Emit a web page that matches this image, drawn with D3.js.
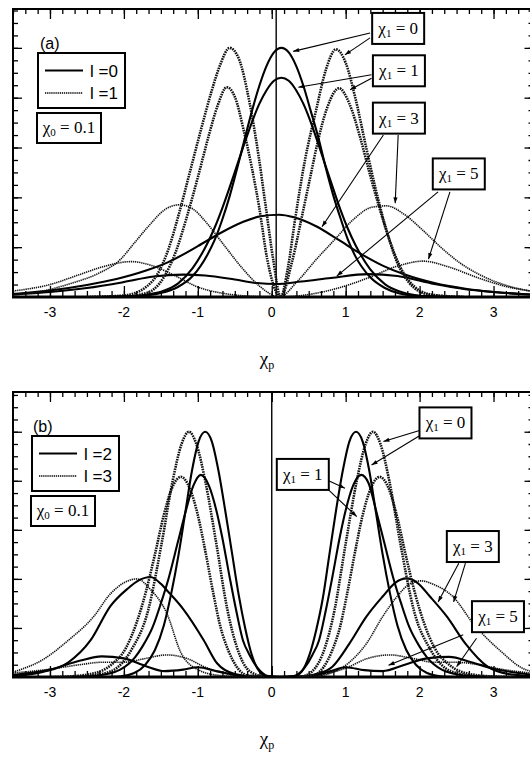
<!DOCTYPE html>
<html lang="en">
<head>
<meta charset="UTF-8">
<title>Density profiles vs chi_p</title>
<script src="https://d3js.org/d3.v7.min.js"></script>
<style>
  body { margin: 0; background: #fff; }
  svg { display: block; }
  .tick line { stroke: #000; stroke-width: 1.3px; }
</style>
</head>
<body>
<div id="chart"></div>
<script>
// shared x axis
const xLabels = [-3, -2, -1, 0, 1, 2, 3];
const xDomain = [-3.5, 3.5];

// ---- panel (a): l = 0 (solid) and l = 1 (dotted), chi0 = 0.1 ----
const a_l0_c0 = [[-2.2,0],[-1.8,0.02],[-1.5,0.08],[-1.27,0.2],[-1.07,0.42],[-0.87,0.85],[-0.77,1.15],[-0.67,1.55],[-0.57,2.02],[-0.47,2.57],[-0.37,3.15],[-0.27,3.72],[-0.17,4.23],[-0.07,4.64],[0.03,4.91],[0.13,5.0],[0.23,4.91],[0.33,4.64],[0.43,4.23],[0.53,3.72],[0.63,3.2],[0.73,2.6],[0.83,2.05],[0.93,1.58],[1.03,1.15],[1.13,0.82],[1.33,0.4],[1.53,0.18],[1.73,0.07],[2.0,0.02],[2.4,0]];
const a_l0_c1 = [[-2.3,0],[-1.9,0.02],[-1.67,0.05],[-1.47,0.12],[-1.27,0.27],[-1.07,0.58],[-0.87,1.08],[-0.77,1.4],[-0.67,1.78],[-0.57,2.2],[-0.47,2.64],[-0.37,3.08],[-0.27,3.5],[-0.17,3.87],[-0.07,4.15],[0.03,4.34],[0.13,4.4],[0.23,4.34],[0.33,4.15],[0.43,3.87],[0.53,3.5],[0.63,3.07],[0.73,2.62],[0.83,2.18],[0.93,1.75],[1.03,1.37],[1.13,1.05],[1.33,0.56],[1.53,0.26],[1.73,0.11],[1.93,0.04],[2.2,0.01],[2.6,0]];
const a_l0_c3 = [[-3.5,0.06],[-3.0,0.13],[-2.5,0.24],[-2.1,0.36],[-1.7,0.53],[-1.4,0.7],[-1.0,1.02],[-0.7,1.28],[-0.4,1.5],[-0.15,1.62],[0.1,1.65],[0.3,1.6],[0.6,1.42],[0.9,1.15],[1.2,0.87],[1.5,0.63],[1.8,0.45],[2.2,0.28],[2.6,0.17],[3.0,0.1],[3.5,0.05]];
const a_l0_c5 = [[-3.5,0.05],[-3.0,0.1],[-2.5,0.18],[-2.0,0.3],[-1.6,0.41],[-1.2,0.45],[-0.9,0.43],[-0.5,0.35],[-0.2,0.28],[0.05,0.26],[0.4,0.31],[0.8,0.38],[1.3,0.46],[1.7,0.42],[2.2,0.26],[2.6,0.16],[3.0,0.1],[3.5,0.05]];
const a_l1_c0 = [[-2.5,0],[-2.0,0.03],[-1.85,0.08],[-1.7,0.2],[-1.55,0.45],[-1.4,0.95],[-1.25,1.7],[-1.1,2.55],[-0.95,3.4],[-0.82,4.1],[-0.7,4.65],[-0.57,5.0],[-0.45,4.8],[-0.3,3.9],[-0.18,2.85],[-0.08,1.8],[0.02,0.75],[0.12,0],[0.22,0.6],[0.32,1.6],[0.45,2.75],[0.6,3.75],[0.73,4.55],[0.87,4.97],[1.0,4.7],[1.13,4.0],[1.27,3.05],[1.4,2.2],[1.55,1.35],[1.7,0.68],[1.85,0.3],[2.0,0.11],[2.2,0.03],[2.6,0]];
const a_l1_c1 = [[-2.4,0],[-1.9,0.02],[-1.75,0.06],[-1.6,0.15],[-1.45,0.42],[-1.3,0.9],[-1.15,1.6],[-1.0,2.4],[-0.85,3.25],[-0.73,3.85],[-0.61,4.21],[-0.5,4.02],[-0.38,3.35],[-0.27,2.6],[-0.17,1.8],[-0.06,0.75],[0.12,0],[0.27,0.68],[0.42,1.7],[0.52,2.4],[0.62,3.1],[0.75,3.8],[0.91,4.19],[1.05,3.88],[1.2,3.18],[1.33,2.45],[1.45,1.82],[1.58,1.2],[1.72,0.66],[1.86,0.32],[2.0,0.13],[2.2,0.04],[2.6,0]];
const a_l1_c3 = [[-3.5,0.04],[-3.1,0.12],[-2.7,0.28],[-2.35,0.47],[-2.05,0.75],[-1.85,1.1],[-1.65,1.45],[-1.45,1.75],[-1.25,1.85],[-1.05,1.75],[-0.9,1.52],[-0.65,1.05],[-0.4,0.58],[-0.15,0.2],[0.1,0],[0.35,0.32],[0.6,0.75],[0.85,1.15],[1.1,1.55],[1.35,1.8],[1.55,1.83],[1.8,1.65],[2.05,1.33],[2.3,0.98],[2.55,0.68],[2.85,0.42],[3.2,0.22],[3.5,0.12]];
const a_l1_c5 = [[-3.5,0.12],[-3.0,0.25],[-2.6,0.45],[-2.3,0.6],[-1.9,0.71],[-1.6,0.62],[-1.3,0.42],[-1.0,0.2],[-0.6,0.06],[-0.2,0.01],[0.1,0],[0.5,0.05],[0.9,0.18],[1.3,0.38],[1.7,0.62],[2.05,0.72],[2.4,0.6],[2.8,0.38],[3.2,0.2],[3.5,0.12]];

// ---- panel (b): l = 2 (solid) and l = 3 (dotted), chi0 = 0.1 ----
const b_l2_c0 = [[-2.4,0],[-2.06,0.01],[-1.86,0.08],[-1.71,0.25],[-1.58,0.55],[-1.46,1.05],[-1.36,1.7],[-1.26,2.5],[-1.17,3.35],[-1.08,4.2],[-0.99,4.8],[-0.9,5.0],[-0.81,4.8],[-0.72,4.2],[-0.63,3.4],[-0.54,2.55],[-0.45,1.7],[-0.36,1.0],[-0.27,0.45],[-0.16,0.1],[-0.06,0.01],[0.12,0],[0.3,0.01],[0.4,0.1],[0.51,0.45],[0.6,0.95],[0.69,1.6],[0.78,2.5],[0.87,3.4],[0.96,4.2],[1.05,4.8],[1.14,5.0],[1.23,4.8],[1.32,4.2],[1.41,3.35],[1.5,2.5],[1.6,1.7],[1.7,1.05],[1.82,0.55],[1.95,0.25],[2.1,0.08],[2.3,0.01],[2.6,0]];
const b_l2_c1 = [[-2.7,0],[-2.35,0.03],[-2.05,0.15],[-1.85,0.4],[-1.75,0.62],[-1.61,1.02],[-1.5,1.5],[-1.39,2.04],[-1.27,2.75],[-1.16,3.4],[-1.06,3.9],[-0.96,4.12],[-0.85,3.9],[-0.75,3.4],[-0.67,2.85],[-0.57,2.04],[-0.48,1.35],[-0.39,0.75],[-0.3,0.45],[-0.2,0.2],[-0.05,0.02],[0.12,0],[0.3,0.02],[0.45,0.2],[0.55,0.45],[0.64,0.75],[0.73,1.35],[0.82,2.04],[0.92,2.85],[1.0,3.4],[1.1,3.9],[1.21,4.12],[1.31,3.95],[1.41,3.4],[1.52,2.75],[1.64,2.04],[1.75,1.5],[1.86,1.02],[2.0,0.62],[2.1,0.4],[2.3,0.15],[2.6,0.03],[2.9,0]];
const b_l2_c3 = [[-3.5,0.02],[-3.1,0.1],[-2.75,0.3],[-2.45,0.75],[-2.18,1.45],[-1.95,1.8],[-1.8,1.97],[-1.64,2.04],[-1.5,1.9],[-1.42,1.77],[-1.19,1.37],[-0.92,0.75],[-0.74,0.28],[-0.5,0.06],[-0.2,0],[0.4,0],[0.6,0.06],[0.82,0.21],[1.05,0.68],[1.28,1.23],[1.5,1.64],[1.67,1.92],[1.82,2.01],[1.97,1.92],[2.14,1.64],[2.37,1.23],[2.62,0.68],[2.92,0.21],[3.2,0.06],[3.5,0.02]];
const b_l2_c5 = [[-3.5,0.04],[-3.0,0.15],[-2.6,0.33],[-2.3,0.42],[-2.0,0.38],[-1.7,0.22],[-1.45,0.12],[-1.2,0.15],[-1.0,0.2],[-0.75,0.12],[-0.45,0.03],[-0.1,0],[0.3,0],[0.6,0.04],[0.8,0.12],[1.0,0.2],[1.25,0.14],[1.5,0.12],[1.8,0.25],[2.1,0.38],[2.4,0.41],[2.7,0.3],[3.0,0.17],[3.5,0.05]];
const b_l3_c0 = [[-2.8,0],[-2.5,0.02],[-2.17,0.12],[-1.9,0.55],[-1.67,1.37],[-1.49,2.72],[-1.34,4.0],[-1.22,4.75],[-1.12,5.0],[-1.02,4.75],[-0.9,4.0],[-0.75,2.72],[-0.6,1.37],[-0.47,0.6],[-0.3,0.12],[-0.1,0.01],[0.12,0],[0.4,0.01],[0.55,0.12],[0.72,0.6],[0.85,1.37],[1.0,2.72],[1.15,4.0],[1.27,4.75],[1.37,5.0],[1.47,4.75],[1.59,4.0],[1.74,2.72],[1.92,1.37],[2.15,0.55],[2.42,0.12],[2.8,0.01],[3.1,0]];
const b_l3_c1 = [[-3.0,0],[-2.77,0.01],[-2.42,0.07],[-2.17,0.25],[-1.97,0.6],[-1.83,1.1],[-1.7,1.75],[-1.58,2.5],[-1.46,3.3],[-1.35,3.85],[-1.23,4.08],[-1.11,3.85],[-1.0,3.3],[-0.89,2.5],[-0.79,1.7],[-0.69,1.0],[-0.59,0.55],[-0.47,0.2],[-0.32,0.03],[0.12,0],[0.55,0.03],[0.7,0.2],[0.82,0.55],[0.92,1.0],[1.02,1.7],[1.12,2.5],[1.23,3.3],[1.34,3.85],[1.46,4.08],[1.58,3.85],[1.69,3.3],[1.81,2.5],[1.93,1.75],[2.06,1.1],[2.2,0.6],[2.4,0.25],[2.65,0.07],[3.0,0.01],[3.3,0]];
const b_l3_c3 = [[-3.5,0.1],[-3.1,0.35],[-2.75,0.75],[-2.41,1.23],[-2.18,1.7],[-2.0,1.92],[-1.82,2.0],[-1.65,1.8],[-1.42,1.3],[-1.23,0.5],[-1.0,0.15],[-0.7,0.03],[-0.3,0],[0.5,0],[0.8,0.08],[1.05,0.3],[1.28,0.68],[1.5,1.23],[1.7,1.65],[1.85,1.88],[2.02,1.96],[2.2,1.88],[2.45,1.64],[2.72,1.1],[3.08,0.55],[3.45,0.14],[3.5,0.12]];
const b_l3_c5 = [[-3.5,0.08],[-3.0,0.16],[-2.6,0.25],[-2.3,0.3],[-2.0,0.3],[-1.7,0.38],[-1.42,0.45],[-1.15,0.38],[-0.9,0.2],[-0.6,0.06],[-0.2,0],[0.3,0],[0.7,0.06],[1.0,0.18],[1.3,0.38],[1.6,0.45],[1.9,0.38],[2.2,0.3],[2.5,0.3],[2.8,0.25],[3.1,0.16],[3.5,0.08]];

// chi1 annotation boxes: box centre and arrow (from -> to) in data units
const notesA = [
  {chi1: 0, at: [1.71, 5.40], arrows: [[1.33, 5.30, 0.29, 4.93], [1.33, 5.20, 0.99, 4.86]]},
  {chi1: 1, at: [1.72, 4.55], arrows: [[1.35, 4.46, 0.36, 4.21], [1.35, 4.39, 1.06, 4.16]]},
  {chi1: 3, at: [1.72, 3.60], arrows: [[1.51, 3.25, 0.68, 1.41], [1.71, 3.25, 1.67, 1.88]]},
  {chi1: 5, at: [2.53, 2.48], arrows: [[2.25, 2.11, 0.88, 0.42], [2.41, 2.11, 2.12, 0.76]]}
];
const notesB = [
  {chi1: 0, at: [2.35, 5.19], arrows: [[2.01, 5.03, 1.51, 4.80], [2.01, 4.93, 1.35, 4.32]]},
  {chi1: 1, at: [0.42, 4.14], arrows: [[0.74, 4.02, 0.99, 3.85], [0.70, 3.91, 1.15, 3.27]]},
  {chi1: 3, at: [2.72, 2.67], arrows: [[2.53, 2.32, 2.25, 1.53], [2.62, 2.32, 2.46, 1.53]]},
  {chi1: 5, at: [3.06, 1.24], arrows: [[2.59, 0.86, 1.58, 0.24], [2.77, 0.79, 2.50, 0.21]]}
];

const panels = [
  {tag: "(a)", top: 9, bottom: 297, yMax: 5.78, vline: 0.06, legendX: 38, tagX: 40,
   labels: ["l =0", "l =1"], notes: notesA,
   curves: [
     {d: a_l0_c5, dotted: false}, {d: a_l0_c3, dotted: false},
     {d: a_l1_c5, dotted: true, thin: true}, {d: a_l1_c3, dotted: true, thin: true},
     {d: a_l1_c1, dotted: true}, {d: a_l1_c0, dotted: true},
     {d: a_l0_c1, dotted: false}, {d: a_l0_c0, dotted: false}]},
  {tag: "(b)", top: 392, bottom: 677, yMax: 5.81, vline: 0, legendX: 32, tagX: 33,
   labels: ["l =2", "l =3"], notes: notesB,
   curves: [
     {d: b_l3_c5, dotted: true, thin: true}, {d: b_l3_c3, dotted: true, thin: true},
     {d: b_l2_c5, dotted: false}, {d: b_l2_c3, dotted: false},
     {d: b_l3_c1, dotted: true}, {d: b_l3_c0, dotted: true},
     {d: b_l2_c1, dotted: false}, {d: b_l2_c0, dotted: false}]}
];

const W = 530, H = 757;
const left = 13, right = 530.5;
const svg = d3.select("#chart").append("svg").attr("width", W).attr("height", H);

svg.append("defs").append("marker")
  .attr("id", "arrow").attr("viewBox", "0 0 10 10")
  .attr("refX", 10).attr("refY", 5)
  .attr("markerUnits", "userSpaceOnUse")
  .attr("markerWidth", 8).attr("markerHeight", 6)
  .attr("orient", "auto")
  .append("path").attr("d", "M0,1.5L10,5L0,8.5Z").attr("fill", "#000");

const x = d3.scaleLinear().domain(xDomain).range([left, right]);
const xMinor = d3.range(-21, 22).map(i => i / 6);
const serif = "'Liberation Serif', 'Times New Roman', serif";
const sans = "'Liberation Sans', Arial, sans-serif";

panels.forEach((p, pi) => {
  const y = d3.scaleLinear().domain([0, p.yMax]).range([p.bottom, p.top]);
  const g = svg.append("g");
  const yMinor = d3.range(1, Math.floor(p.yMax * 4) + 1).map(i => i / 4);

  // clip
  const clipId = "clip" + pi;
  svg.select("defs").append("clipPath").attr("id", clipId)
    .append("rect").attr("x", left).attr("y", p.top)
    .attr("width", right - left).attr("height", p.bottom - p.top);

  // ticks (inward)
  const addAxis = (axis, tx, ty) => {
    const a = g.append("g").attr("transform", `translate(${tx},${ty})`).call(axis);
    a.select(".domain").remove();
    a.selectAll("text").remove();
  };
  addAxis(d3.axisRight(y).tickValues(yMinor).tickSize(5), left, 0);
  addAxis(d3.axisRight(y).tickValues([1, 2, 3, 4, 5]).tickSize(9), left, 0);
  addAxis(d3.axisLeft(y).tickValues(yMinor).tickSize(2), right, 0);
  addAxis(d3.axisLeft(y).tickValues([1, 2, 3, 4, 5]).tickSize(6), right, 0);
  addAxis(d3.axisBottom(x).tickValues(xMinor).tickSize(5), 0, p.top);
  addAxis(d3.axisBottom(x).tickValues(xLabels).tickSize(10), 0, p.top);
  addAxis(d3.axisTop(x).tickValues(xMinor).tickSize(6), 0, p.bottom);
  addAxis(d3.axisTop(x).tickValues(xLabels).tickSize(11), 0, p.bottom);

  // frame
  g.append("path")
    .attr("d", `M${right},${p.top}H${left}V${p.bottom}`)
    .attr("fill", "none").attr("stroke", "#000").attr("stroke-width", 2);
  g.append("line")
    .attr("x1", left - 1).attr("x2", right).attr("y1", p.bottom).attr("y2", p.bottom)
    .attr("stroke", "#000").attr("stroke-width", 3);

  // tick labels
  g.selectAll("text.xl").data(xLabels).join("text")
    .attr("class", "xl")
    .attr("x", d => x(d)).attr("y", p.bottom + 20)
    .attr("text-anchor", "middle")
    .style("font-family", sans).style("font-size", "14px")
    .text(d => d);

  // axis title chi_p
  const t = g.append("text").attr("x", 267).attr("y", p.bottom + 68)
    .attr("text-anchor", "middle")
    .style("font-family", serif).style("font-size", "19px");
  t.append("tspan").text("χ");
  t.append("tspan").attr("dy", 4).style("font-size", "12px").text("p");

  // vertical line at origin
  g.append("line")
    .attr("x1", x(p.vline)).attr("x2", x(p.vline))
    .attr("y1", p.top).attr("y2", p.bottom)
    .attr("stroke", "#000").attr("stroke-width", 1.4);

  // curves
  const line = d3.line().x(d => x(d[0])).y(d => y(d[1])).curve(d3.curveMonotoneX);
  const cg = g.append("g").attr("clip-path", `url(#${clipId})`);
  p.curves.forEach(c => {
    cg.append("path").datum(c.d)
      .attr("d", line)
      .attr("fill", "none")
      .attr("stroke", c.dotted ? "#111" : "#000")
      .attr("stroke-width", c.dotted ? (c.thin ? 1.6 : 2.6) : 2.1)
      .attr("stroke-dasharray", c.dotted ? (c.thin ? "1.3 0.8" : "1.6 0.9") : null)
      .attr("stroke-linejoin", "round");
  });

  // panel tag
  g.append("text").attr("x", p.tagX).attr("y", p.top + 40)
    .style("font-family", sans).style("font-size", "16px")
    .text(p.tag);

  // legend box
  const lx = p.legendX, ly = p.top + 44;
  g.append("rect").attr("x", lx).attr("y", ly).attr("width", 87).attr("height", 55)
    .attr("fill", "#fff").attr("stroke", "#000").attr("stroke-width", 2);
  p.labels.forEach((lab, i) => {
    const yy = ly + 17.5 + i * 22.5;
    g.append("line").attr("x1", lx + 7).attr("x2", lx + 45).attr("y1", yy).attr("y2", yy)
      .attr("stroke", "#000")
      .attr("stroke-width", i ? 1.6 : 2.1)
      .attr("stroke-dasharray", i ? "1.3 0.8" : null);
    g.append("text").attr("x", lx + 52).attr("y", yy + 6)
      .style("font-family", sans).style("font-size", "17px")
      .text(lab);
  });

  // chi0 box
  const cy0 = p.top + 104;
  g.append("rect").attr("x", lx - 1).attr("y", cy0).attr("width", 64).attr("height", 30)
    .attr("fill", "#fff").attr("stroke", "#000").attr("stroke-width", 2);
  const c0 = g.append("text").attr("x", lx + 31).attr("y", cy0 + 20)
    .attr("text-anchor", "middle")
    .style("font-family", serif).style("font-size", "17px");
  c0.append("tspan").text("χ");
  c0.append("tspan").attr("dy", 3).style("font-size", "11px").text("0");
  c0.append("tspan").attr("dy", -3).text(" = 0.1");

  // chi1 annotations
  p.notes.forEach(n => {
    n.arrows.forEach(a => {
      g.append("line")
        .attr("x1", x(a[0])).attr("y1", y(a[1]))
        .attr("x2", x(a[2])).attr("y2", y(a[3]))
        .attr("stroke", "#000").attr("stroke-width", 1.1)
        .attr("marker-end", "url(#arrow)");
    });
    const cx = x(n.at[0]), cy = y(n.at[1]);
    g.append("rect").attr("x", cx - 26).attr("y", cy - 15).attr("width", 52).attr("height", 31)
      .attr("fill", "#fff").attr("stroke", "#000").attr("stroke-width", 2);
    const tt = g.append("text").attr("x", cx).attr("y", cy + 6)
      .attr("text-anchor", "middle")
      .style("font-family", serif).style("font-size", "17px");
    tt.append("tspan").text("χ");
    tt.append("tspan").attr("dy", 3).style("font-size", "11px").text("1");
    tt.append("tspan").attr("dy", -3).text(" = " + n.chi1);
  });
});
</script>
</body>
</html>
